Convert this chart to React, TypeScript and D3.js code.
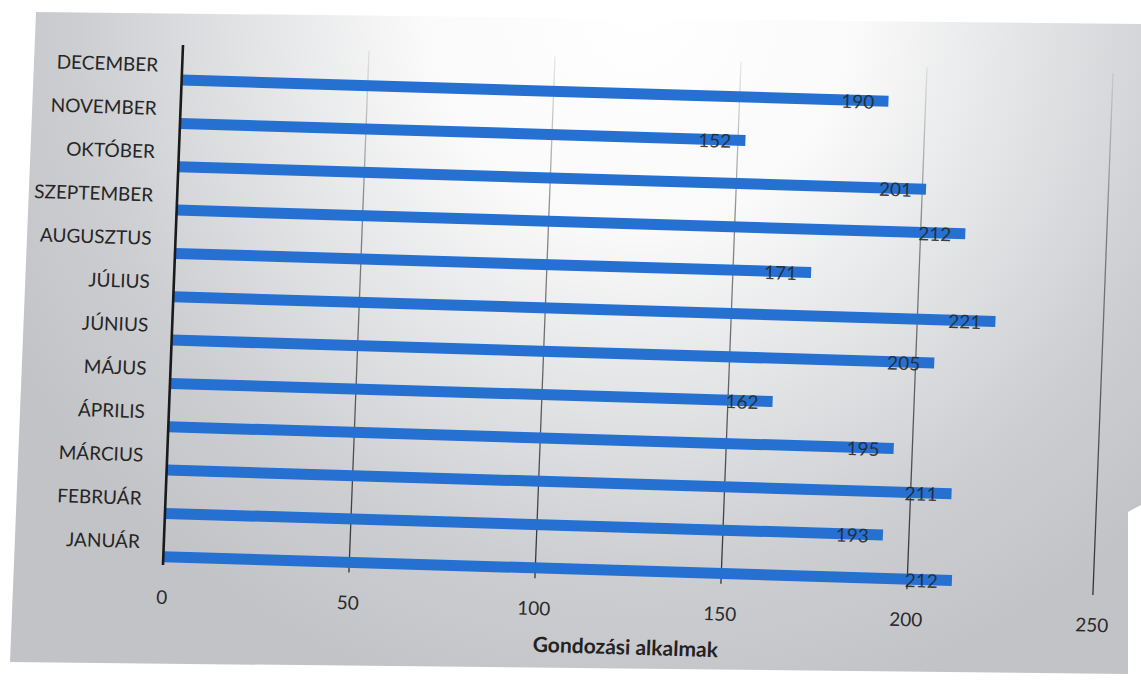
import * as d3 from "d3";

const months = ["DECEMBER", "NOVEMBER", "OKTÓBER", "SZEPTEMBER", "AUGUSZTUS", "JÚLIUS", "JÚNIUS", "MÁJUS", "ÁPRILIS", "MÁRCIUS", "FEBRUÁR", "JANUÁR"];
const visits = [190, 152, 201, 212, 171, 221, 205, 162, 195, 211, 193, 212];
const xTicks = [0, 50, 100, 150, 200, 250];
const axisTitle = "Gondozási alkalmak";

const WIDTH = 1141;
const HEIGHT = 690;
const PLOT_W = 930;
const PLOT_H = 520;
const FONT = "Lato, 'Open Sans', sans-serif";
// the reference is a photo of a printed page, so the plot is slightly sheared
const PAGE = "matrix(1 0.03 -0.0385 1 183 45)";

export default function App() {
  const x = d3.scaleLinear().domain([0, 250]).range([0, PLOT_W]);
  const y = d3.scaleBand<string>().domain(months).range([0, PLOT_H]);
  const band = y.bandwidth();

  return (
    <svg width={WIDTH} height={HEIGHT} viewBox={`0 0 ${WIDTH} ${HEIGHT}`} style={{ position: "absolute", left: 0, top: 0, background: "#ffffff" }}>
      <defs>
        <radialGradient id="paper" gradientUnits="userSpaceOnUse" cx="640" cy="10" r="720">
          <stop offset="0" stopColor="#ffffff" />
          <stop offset="0.3" stopColor="#fafafa" />
          <stop offset="0.55" stopColor="#e2e3e5" />
          <stop offset="0.78" stopColor="#cdced1" />
          <stop offset="1" stopColor="#c2c3c7" />
        </radialGradient>
        <linearGradient id="grid" gradientUnits="userSpaceOnUse" x1="0" y1="0" x2="0" y2={PLOT_H}>
          <stop offset="0" stopColor="#555" stopOpacity="0.12" />
          <stop offset="0.3" stopColor="#444" stopOpacity="0.6" />
          <stop offset="1" stopColor="#222" stopOpacity="0.9" />
        </linearGradient>
      </defs>
      <polygon points="36,12 1141,24 1141,505 1128,512 1128,674 10,662" fill="url(#paper)" />
      <g transform={PAGE}>
        {xTicks.slice(1).map((t) => (
          <line key={t} x1={x(t)} x2={x(t)} y1={0} y2={PLOT_H + 2} stroke="url(#grid)" strokeWidth={1.3} />
        ))}
        {months.map((m, i) => (
          <rect key={m} x={0} y={(y(m) ?? 0) + band * 0.81 - 5.5} width={x(visits[i])} height={11} fill="#2570d0" />
        ))}
        <line x1={0} x2={0} y1={0} y2={PLOT_H} stroke="#1a1a1a" strokeWidth={2.6} />
        {months.map((m) => (
          <text key={m} x={-24} y={(y(m) ?? 0) + band * 0.47} dy="0.36em" textAnchor="end" fontFamily={FONT} fontSize={19} fill="#262626">
            {m}
          </text>
        ))}
        {months.map((m, i) => (
          <text key={m} x={x(visits[i]) - 14} y={(y(m) ?? 0) + band * 0.81} dy="0.42em" textAnchor="end" fontFamily={FONT} fontSize={19} fill="#262626" fillOpacity={0.88}>
            {visits[i]}
          </text>
        ))}
        {xTicks.map((t) => (
          <text key={t} x={x(t)} y={PLOT_H + 32} dy="0.36em" textAnchor="middle" fontFamily={FONT} fontSize={19} fill="#2a2a2a">
            {t}
          </text>
        ))}
        <text x={PLOT_W / 2} y={PLOT_H + 68} dy="0.36em" textAnchor="middle" fontFamily={FONT} fontSize={21} fontWeight={700} fill="#222">
          {axisTitle}
        </text>
      </g>
    </svg>
  );
}
